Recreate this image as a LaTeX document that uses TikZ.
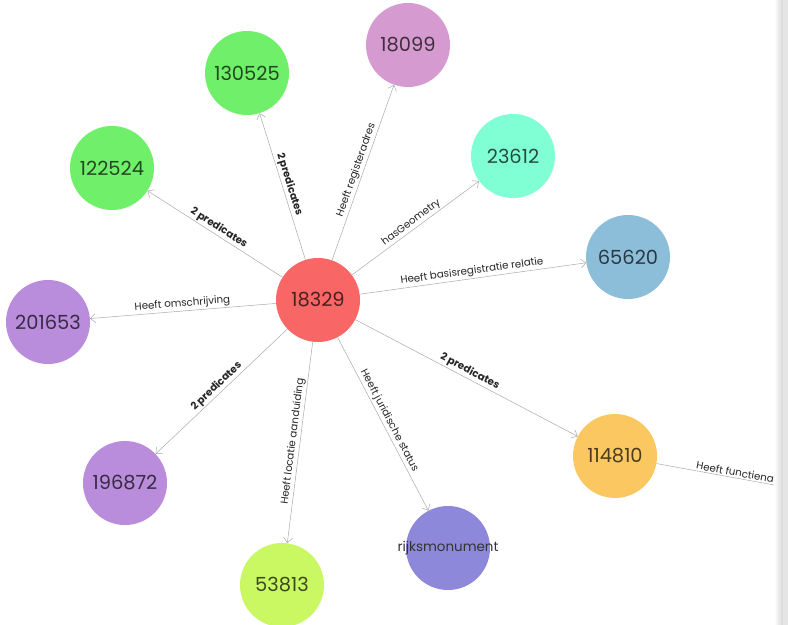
\documentclass[tikz,border=0pt]{standalone}
\usepackage{fontspec}
\setmainfont{Poppins}
\usetikzlibrary{arrows.meta}
\definecolor{cCenter}{RGB}{248,102,102}
\definecolor{cGreen}{RGB}{112,240,106}
\definecolor{cPink}{RGB}{213,154,208}
\definecolor{cAqua}{RGB}{128,255,212}
\definecolor{cBlue}{RGB}{140,190,218}
\definecolor{cPurple}{RGB}{186,140,220}
\definecolor{cLime}{RGB}{201,248,98}
\definecolor{cSlate}{RGB}{142,136,218}
\definecolor{cOrange}{RGB}{251,199,96}
\definecolor{edgegray}{RGB}{170,170,170}
\tikzset{
  ent/.style={circle, minimum size=84bp, inner sep=0pt, fill=#1, text=#1!30!black, font=\fontsize{19.5}{19.5}\selectfont},
  rel/.style={draw=edgegray, line width=0.5pt, -{Straight Barb[length=5bp,width=9bp]}},
  plain/.style={draw=edgegray, line width=0.5pt},
  lbl/.style={midway, sloped, above, inner sep=1.5pt, font=\fontsize{10.3}{10.3}\selectfont, text=black!85},
  blbl/.style={lbl, font=\fontsize{10.3}{10.3}\selectfont\bfseries}
}
\begin{document}
\begin{tikzpicture}[x=1bp,y=-1bp]
\useasboundingbox (0,0) rectangle (788,625);
\fill[white] (0,0) rectangle (788,625);
% nodes
\node[ent=cCenter] (c) at (318,300) {18329};
\node[ent=cGreen] (n130525) at (247,73) {130525};
\node[ent=cPink] (n18099) at (408,45) {18099};
\node[ent=cGreen] (n122524) at (112,168) {122524};
\node[ent=cAqua] (n23612) at (513,156) {23612};
\node[ent=cBlue] (n65620) at (628,257) {65620};
\node[ent=cPurple] (n201653) at (48,322) {201653};
\node[ent=cPurple] (n196872) at (125,483) {196872};
\node[ent=cLime] (n53813) at (282,585) {53813};
\node[ent=cSlate, text=black!80, font=\fontsize{13.5}{13.5}\selectfont] (rijks) at (448,548) {\makebox[0pt]{rijksmonument}};
\node[ent=cOrange] (n114810) at (615,456) {114810};
\coordinate (fnEnd) at (840,497);
% edges
\path[rel] (c) -- node[blbl] {2 predicates} (n130525);
\path[rel] (c) -- node[lbl] {Heeft registeradres} (n18099);
\path[rel] (c) -- node[lbl] {hasGeometry} (n23612);
\path[rel] (c) -- node[lbl] {Heeft basisregistratie relatie} (n65620);
\path[rel] (c) -- node[blbl] {2 predicates} (n122524);
\path[rel] (c) -- node[lbl] {Heeft omschrijving} (n201653);
\path[rel] (c) -- node[blbl] {2 predicates} (n196872);
\path[rel] (c) -- node[lbl] {Heeft locatie aanduiding} (n53813);
\path[rel] (c) -- node[lbl] {Heeft juridische status} (rijks);
\path[rel] (c) -- node[blbl] {2 predicates} (n114810);
\path[plain] (n114810) -- node[lbl, pos=0.47] {Heeft functienaam} (fnEnd);
% right scrollbar strip
\shade[left color=white, right color=black!16, draw=none] (774,0) rectangle (783,625);
\fill[black!10] (783,0) rectangle (788,625);
\end{tikzpicture}
\end{document}
